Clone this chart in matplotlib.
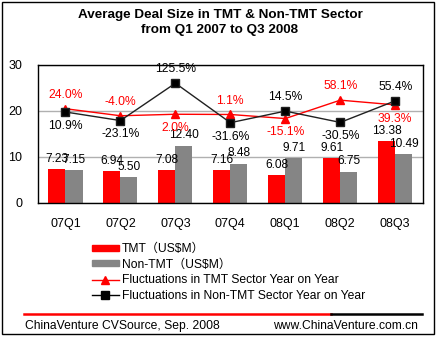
import numpy as np
import matplotlib.pyplot as plt
from matplotlib.lines import Line2D
from matplotlib.patches import Rectangle, Patch

plt.rcParams['font.family'] = ['Liberation Sans', 'Noto Sans CJK SC', 'DejaVu Sans']

quarters = ['07Q1', '07Q2', '07Q3', '07Q4', '08Q1', '08Q2', '08Q3']
tmt = [7.23, 6.94, 7.08, 7.16, 6.08, 9.61, 13.38]
non_tmt = [7.15, 5.50, 12.40, 8.48, 9.71, 6.75, 10.49]
tmt_yoy = [24.0, -4.0, 2.0, 1.1, -15.1, 58.1, 39.3]
non_tmt_yoy = [10.9, -23.1, 125.5, -31.6, 14.5, -30.5, 55.4]
# label above (+1) or below (-1) the marker
tmt_side = [1, 1, -1, 1, -1, 1, -1]
non_side = [-1, -1, 1, -1, 1, -1, 1]

W, H = 440, 338
fig = plt.figure(figsize=(W / 100, H / 100), dpi=100)
ax = fig.add_axes([38 / W, 1 - 202.7 / H, (422.7 - 38) / W, (202.7 - 64.5) / H])

x = np.arange(len(quarters))
bw = 0.31
b1 = ax.bar(x - bw / 2, tmt, bw, color='#ff0000', zorder=2)
b2 = ax.bar(x + bw / 2, non_tmt, bw, color='#858585', zorder=2)
for bars, vals in ((b1, tmt), (b2, non_tmt)):
    for r, v in zip(bars, vals):
        ax.annotate('%.2f' % v, (r.get_x() + r.get_width() / 2, v),
                    xytext=(0, 3), textcoords='offset points',
                    ha='center', va='bottom', fontsize=8.6)

ax.set_xlim(-0.5, len(quarters) - 0.5)
ax.set_ylim(0, 30)
ax.set_yticks([0, 10, 20, 30])
ax.set_xticks(x)
ax.set_xticklabels(quarters)
ax.tick_params(length=0, labelsize=9)
ax.tick_params(axis='x', pad=11)
ax.tick_params(axis='y', pad=11.5)
ax.grid(axis='y', color='#b0b0b0', linewidth=1, zorder=0)
for s in ax.spines.values():
    s.set_linewidth(1)

ax2 = ax.twinx()
ax2.set_ylim(-350, 200)
ax2.set_xlim(-0.5, len(quarters) - 0.5)
ax2.axis('off')
ax2.plot(x, tmt_yoy, color='#ff0000', lw=1, marker='^', ms=6, zorder=3)
ax2.plot(x, non_tmt_yoy, color='#202020', lw=1, marker='s', ms=6,
         markerfacecolor='black', zorder=4)
for i in range(len(x)):
    ax2.annotate('%.1f%%' % tmt_yoy[i], (x[i], tmt_yoy[i]),
                 xytext=(0, 10 * tmt_side[i]), textcoords='offset points',
                 ha='center', va='center', fontsize=8.7, color='#ff0000')
    ax2.annotate('%.1f%%' % non_tmt_yoy[i], (x[i], non_tmt_yoy[i]),
                 xytext=(0, 10 * non_side[i]), textcoords='offset points',
                 ha='center', va='center', fontsize=8.7, color='black')

fig.text(0.5, 1 - 15 / H, 'Average Deal Size in TMT & Non-TMT Sector',
         ha='center', va='center', fontsize=9.7, fontweight='bold')
fig.text(0.5, 1 - 29.5 / H, 'from Q1 2007 to Q3 2008',
         ha='center', va='center', fontsize=9.7, fontweight='bold')

handles = [
    Patch(color='#ff0000'),
    Patch(color='#858585'),
    Line2D([], [], color='#ff0000', lw=1, marker='^', ms=6),
    Line2D([], [], color='black', lw=1, marker='s', ms=6),
]
labels = ['TMT（US$M）', 'Non-TMT（US$M）',
          'Fluctuations in TMT Sector Year on Year',
          'Fluctuations in Non-TMT Sector Year on Year']
fig.legend(handles, labels, loc='upper left', bbox_to_anchor=(92 / W, 1 - 243 / H),
           frameon=False, fontsize=8.7, handlelength=2.2, handleheight=0.4,
           handletextpad=0.3, labelspacing=0.3, borderaxespad=0, borderpad=0)

fig.add_artist(Line2D([24 / W, 331 / W], [1 - 314 / H] * 2, color='#ff0000', lw=1.8))
fig.add_artist(Line2D([331 / W, 422 / W], [1 - 314 / H] * 2, color='black', lw=1.8))
fig.text(25 / W, 1 - 326 / H, 'ChinaVenture CVSource, Sep. 2008',
         ha='left', va='center', fontsize=8.7)
fig.text(418 / W, 1 - 326 / H, 'www.ChinaVenture.com.cn',
         ha='right', va='center', fontsize=8.7)
fig.add_artist(Rectangle((2 / W, 1 - 333.5 / H), 431.5 / W, 331.5 / H,
                         fill=False, edgecolor='black', lw=1, transform=fig.transFigure))

fig.savefig('out.png', dpi=100)
